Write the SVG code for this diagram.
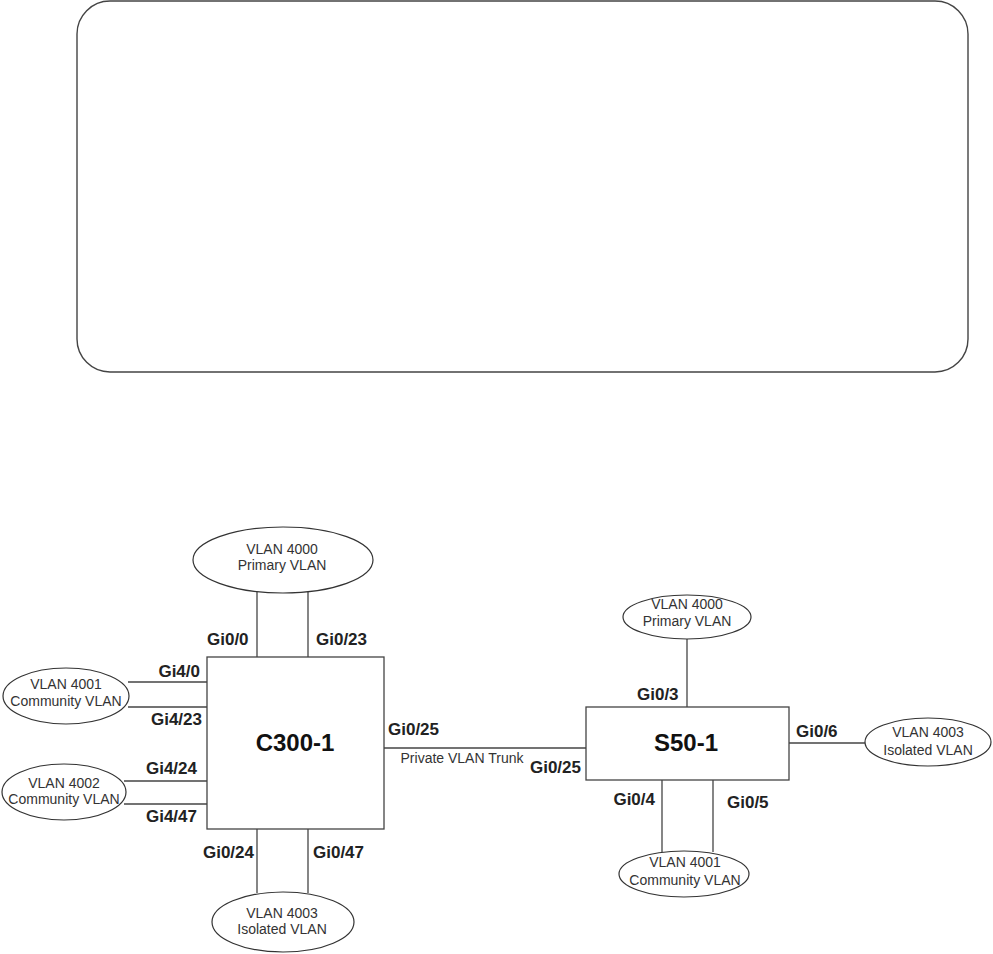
<svg xmlns="http://www.w3.org/2000/svg" width="993" height="954" viewBox="0 0 993 954">
<style>
  .frame{fill:none;stroke:#444;stroke-width:1.4}
  .box{fill:#fff;stroke:#444;stroke-width:1.3}
  .ell{fill:#fff;stroke:#333;stroke-width:1.2}
  .ln{stroke:#444;stroke-width:1.3;fill:none}
  .t{font-family:"Liberation Sans",Arial,sans-serif;font-size:14px;fill:#333;text-anchor:middle}
  .p{font-family:"Liberation Sans",Arial,sans-serif;font-size:17px;font-weight:bold;fill:#222}
  .n{font-family:"Liberation Sans",Arial,sans-serif;font-size:24px;font-weight:bold;fill:#111;text-anchor:middle}
</style>
<rect width="993" height="954" fill="#fff"/>
<rect id="frame" class="frame" x="77" y="1" width="891" height="371" rx="33" ry="33"/>

<g id="connectors">
  <line class="ln" x1="257" y1="592" x2="257" y2="657"/>
  <line class="ln" x1="308" y1="592" x2="308" y2="657"/>
  <line class="ln" x1="128" y1="682" x2="207" y2="682"/>
  <line class="ln" x1="128" y1="707" x2="207" y2="707"/>
  <line class="ln" x1="124" y1="781" x2="207" y2="781"/>
  <line class="ln" x1="124" y1="804" x2="207" y2="804"/>
  <line class="ln" x1="257" y1="829" x2="257" y2="893"/>
  <line class="ln" x1="308" y1="829" x2="308" y2="893"/>
  <line class="ln" x1="384" y1="748" x2="586" y2="748"/>
  <line class="ln" x1="687" y1="639" x2="687" y2="707"/>
  <line class="ln" x1="789" y1="743" x2="865" y2="743"/>
  <line class="ln" x1="662" y1="780" x2="662" y2="852"/>
  <line class="ln" x1="713" y1="780" x2="713" y2="852"/>
  <text class="t" x="462" y="763">Private VLAN Trunk</text>
</g>

<g id="c300">
  <rect class="box" x="207" y="657" width="177" height="172"/>
  <text class="n" x="295" y="751">C300-1</text>
  <text class="p" x="207" y="645">Gi0/0</text>
  <text class="p" x="316" y="645">Gi0/23</text>
  <text class="p" x="200" y="677" text-anchor="end">Gi4/0</text>
  <text class="p" x="202" y="725" text-anchor="end">Gi4/23</text>
  <text class="p" x="197" y="774" text-anchor="end">Gi4/24</text>
  <text class="p" x="197" y="822" text-anchor="end">Gi4/47</text>
  <text class="p" x="254" y="858" text-anchor="end">Gi0/24</text>
  <text class="p" x="313" y="858">Gi0/47</text>
  <text class="p" x="388" y="735">Gi0/25</text>
</g>

<g id="s50">
  <rect class="box" x="586" y="707" width="203" height="73"/>
  <text class="n" x="686" y="751">S50-1</text>
  <text class="p" x="637" y="700">Gi0/3</text>
  <text class="p" x="796" y="737">Gi0/6</text>
  <text class="p" x="581" y="773" text-anchor="end">Gi0/25</text>
  <text class="p" x="655" y="805" text-anchor="end">Gi0/4</text>
  <text class="p" x="727" y="808">Gi0/5</text>
</g>

<g id="c300-vlan4000">
  <ellipse class="ell" cx="283" cy="560" rx="90" ry="33"/>
  <text class="t" x="282" y="554">VLAN 4000</text>
  <text class="t" x="282" y="570">Primary VLAN</text>
</g>
<g id="c300-vlan4001">
  <ellipse class="ell" cx="66" cy="696" rx="63" ry="28"/>
  <text class="t" x="66" y="689">VLAN 4001</text>
  <text class="t" x="66" y="706">Community VLAN</text>
</g>
<g id="c300-vlan4002">
  <ellipse class="ell" cx="64" cy="792" rx="62" ry="28"/>
  <text class="t" x="64" y="788">VLAN 4002</text>
  <text class="t" x="64" y="804">Community VLAN</text>
</g>
<g id="c300-vlan4003">
  <ellipse class="ell" cx="283" cy="922" rx="71" ry="30"/>
  <text class="t" x="282" y="918">VLAN 4003</text>
  <text class="t" x="282" y="934">Isolated VLAN</text>
</g>

<g id="s50-vlan4000">
  <ellipse class="ell" cx="687" cy="617" rx="64" ry="22"/>
  <text class="t" x="687" y="609">VLAN 4000</text>
  <text class="t" x="687" y="626">Primary VLAN</text>
</g>
<g id="s50-vlan4003">
  <ellipse class="ell" cx="928" cy="742" rx="63" ry="24"/>
  <text class="t" x="928" y="737">VLAN 4003</text>
  <text class="t" x="928" y="755">Isolated VLAN</text>
</g>
<g id="s50-vlan4001">
  <ellipse class="ell" cx="684" cy="874" rx="65" ry="23"/>
  <text class="t" x="685" y="867">VLAN 4001</text>
  <text class="t" x="685" y="885">Community VLAN</text>
</g>
</svg>
